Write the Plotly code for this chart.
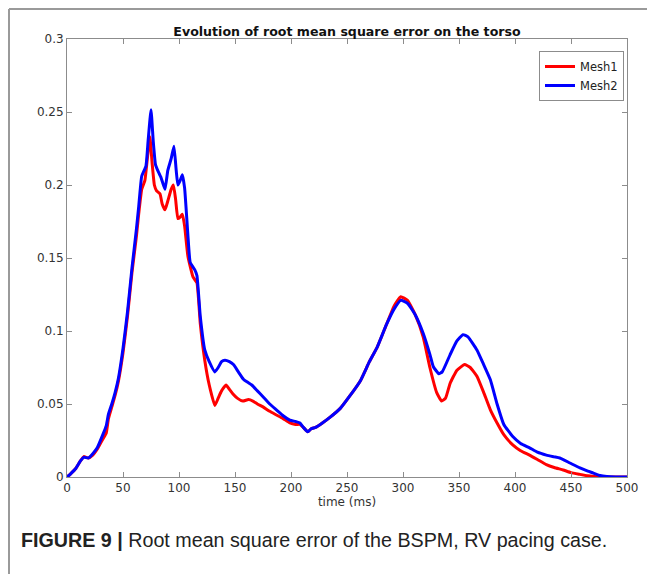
import plotly.graph_objects as go

# ---- data ----
t_mesh1 = [0, 3, 8, 12, 15, 19, 23, 27, 32, 35, 37, 40, 43, 46, 50, 54, 58, 62, 64, 66.7, 69.5, 72, 74, 76, 78,
           80, 83, 85, 87.5, 90, 93, 95, 97, 99, 101, 103, 105, 108, 112.5, 116, 119, 123, 127, 132, 135, 138,
           142, 145, 148, 152, 157, 162, 166, 170, 175, 181, 187, 193, 199, 204, 208, 211, 215, 218, 222, 228,
           235, 244, 252, 262, 270, 277, 285, 292, 298, 304, 311, 318, 324, 330, 334.5, 338, 342, 348, 355, 360,
           366, 372, 378, 384, 390, 398, 405, 413, 420, 428, 435, 443, 450, 458, 465, 473, 485, 500]
mesh1 = [0, 0.002, 0.006, 0.011, 0.014, 0.013, 0.015, 0.019, 0.026, 0.030, 0.040, 0.048, 0.056, 0.066, 0.085,
         0.11, 0.14, 0.165, 0.18, 0.197, 0.203, 0.22, 0.233, 0.215, 0.2, 0.196, 0.194, 0.187, 0.183, 0.189,
         0.197, 0.2, 0.19, 0.177, 0.178, 0.18, 0.172, 0.151, 0.137, 0.133, 0.105, 0.08, 0.063, 0.049, 0.054,
         0.059, 0.063, 0.06, 0.057, 0.054, 0.052, 0.053, 0.052, 0.05, 0.048, 0.045, 0.0425, 0.04, 0.037, 0.036,
         0.036, 0.034, 0.031, 0.033, 0.034, 0.037, 0.041, 0.047, 0.055, 0.066, 0.079, 0.089, 0.104, 0.117,
         0.1235, 0.121, 0.111, 0.096, 0.075, 0.058, 0.052, 0.054, 0.064, 0.073, 0.077, 0.075, 0.069, 0.058,
         0.046, 0.037, 0.029, 0.022, 0.018, 0.015, 0.012, 0.0085, 0.0065, 0.0048, 0.003, 0.0018, 0.0008,
         0.0002, 0, 0]

t_mesh2 = [0, 3, 8, 12, 15, 19, 23, 27, 32, 35, 37, 40, 43, 46, 50, 54, 58, 62, 64, 66.7, 70.5, 72.5, 75, 77,
           79, 81, 84, 87.5, 90, 93, 95.5, 97.5, 99, 101, 103, 105, 108, 110, 114, 116, 119, 123, 127, 132, 135,
           138, 141, 145, 148.6, 153, 157.5, 161, 165, 170, 175, 181, 187, 193, 199, 204, 208, 211, 215, 218,
           222, 228, 235, 244, 252, 262, 270, 277, 285, 292, 298, 304, 311, 318, 324, 327, 332, 335, 342, 348,
           353.6, 358, 366, 372, 378, 384, 390, 398, 405, 413, 420, 428, 435, 440, 449, 458, 465, 470, 476, 482,
           490, 500]
mesh2 = [0, 0.002, 0.006, 0.011, 0.0135, 0.013, 0.016, 0.02, 0.029, 0.035, 0.043, 0.05, 0.058, 0.068, 0.088,
         0.113, 0.143, 0.17, 0.185, 0.206, 0.213, 0.231, 0.2515, 0.23, 0.214, 0.21, 0.205, 0.197, 0.21, 0.218,
         0.2265, 0.21, 0.2, 0.203, 0.207, 0.198, 0.165, 0.147, 0.142, 0.138, 0.11, 0.087, 0.079, 0.072, 0.075,
         0.079, 0.080, 0.079, 0.077, 0.072, 0.067, 0.065, 0.063, 0.059, 0.055, 0.05, 0.046, 0.042, 0.039,
         0.038, 0.037, 0.034, 0.031, 0.033, 0.034, 0.037, 0.041, 0.047, 0.055, 0.066, 0.079, 0.089, 0.104,
         0.115, 0.121, 0.119, 0.111, 0.0985, 0.084, 0.0757, 0.0707, 0.072, 0.0837, 0.093, 0.0975, 0.096,
         0.087, 0.077, 0.0666, 0.05, 0.036, 0.0277, 0.023, 0.02, 0.017, 0.015, 0.0138, 0.013, 0.0096, 0.0062,
         0.004, 0.0027, 0.001, 0.0003, 0, 0]

x_ticks = [0, 50, 100, 150, 200, 250, 300, 350, 400, 450, 500]
y_ticks = [0, 0.05, 0.1, 0.15, 0.2, 0.25, 0.3]
y_tick_labels = ["0", "0.05", "0.1", "0.15", "0.2", "0.25", "0.3"]

title_text = "Evolution of root mean square error on the torso"
x_label = "time (ms)"
caption = "<b>FIGURE 9 |</b> Root mean square error of the BSPM, RV pacing case."

# page body has an 8px margin; compensate so the plot lands where the reference has it
OFF = 8
W, H = 655 - OFF, 574 - OFF
L, T, R, B = 67 - OFF, 39 - OFF, 28, 97
PW, PH = W - L - R, H - T - B


def px(x):  # page x pixel -> paper x
    return (x - OFF - L) / PW


def py(y):  # page y pixel -> paper y
    return (H - B - (y - OFF)) / PH


# ---- figure ----
fig = go.Figure()
fig.add_trace(go.Scatter(x=t_mesh1, y=mesh1, mode="lines", name="Mesh1",
                         line=dict(color="#ff0000", width=3, shape="spline", smoothing=0.4)))
fig.add_trace(go.Scatter(x=t_mesh2, y=mesh2, mode="lines", name="Mesh2",
                         line=dict(color="#0000ff", width=3, shape="spline", smoothing=0.4)))

axis_common = dict(showgrid=False, zeroline=False, showline=True, linecolor="#8c8c8c", linewidth=1,
                   mirror="ticks", ticks="inside", ticklen=5, tickcolor="#8c8c8c",
                   tickfont=dict(family="DejaVu Sans", size=12, color="#333333"))

fig.update_xaxes(range=[0, 500], tickvals=x_ticks, title=dict(text=x_label, standoff=2,
                 font=dict(family="DejaVu Sans", size=12, color="#333333")), **axis_common)
fig.update_yaxes(range=[0, 0.3], tickvals=y_ticks, ticktext=y_tick_labels, **axis_common)

fig.update_layout(
    width=W, height=H,
    margin=dict(l=L, r=R, t=T, b=B, autoexpand=False),
    paper_bgcolor="white", plot_bgcolor="white",
    title=dict(text="<b>" + title_text + "</b>", x=0.5, xref="paper", y=1.0, yref="paper",
               yanchor="bottom", pad=dict(b=3), automargin=False,
               font=dict(family="DejaVu Sans", size=12.6, color="#111111")),
    showlegend=True,
    legend=dict(x=px(624), y=py(51), xanchor="right", yanchor="top", bgcolor="white",
                bordercolor="#8c8c8c", borderwidth=1,
                font=dict(family="DejaVu Sans", size=11.5, color="#222222"),
                tracegroupgap=0, itemwidth=30),
)

fig.add_annotation(text=caption, xref="paper", yref="paper", x=px(19), y=py(540),
                   xanchor="left", yanchor="middle", showarrow=False,
                   font=dict(family="Liberation Sans", size=19.7, color="#222222"))

# figure frame (left and top gray border), as close to the page corner as the figure allows
fig.add_shape(type="line", xref="paper", yref="paper", x0=px(9), x1=px(9),
              y0=py(574), y1=py(9), line=dict(color="#9a9a9a", width=2))
fig.add_shape(type="line", xref="paper", yref="paper", x0=px(9), x1=px(655),
              y0=py(9), y1=py(9), line=dict(color="#9a9a9a", width=2))

fig.write_html("out.html")
